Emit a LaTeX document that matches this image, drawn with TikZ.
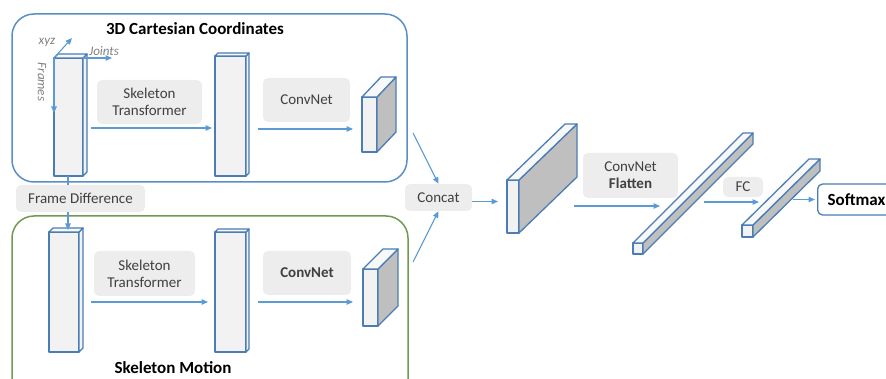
\documentclass[tikz,border=0pt]{standalone}
\usepackage{fontspec}
\setmainfont{Carlito}
\usetikzlibrary{arrows.meta}
\definecolor{lineblue}{HTML}{5B9BD5}
\definecolor{edgeblue}{HTML}{4A7DB5}
\definecolor{frameblue}{HTML}{5A8FC6}
\definecolor{framegreen}{HTML}{6F9A50}
\definecolor{labelgray}{HTML}{EDEDED}
\definecolor{facegray}{HTML}{F2F2F2}
\definecolor{topwhite}{HTML}{F8F8F8}
\definecolor{sidegray}{HTML}{BFBFBF}
\definecolor{textgray}{HTML}{404040}
\tikzset{
  front/.style={draw=edgeblue, line width=1.3pt, fill=facegray, inner sep=0pt, outer sep=0pt},
  edge/.style={draw=edgeblue, line width=1.3pt},
  lbl/.style={fill=labelgray, rounded corners=5pt, text=textgray, align=center, inner sep=0pt},
  arr/.style={->, draw=lineblue, line width=1.1pt},
  axis/.style={font=\itshape\fontsize{13}{15}\selectfont, text=gray},
  title/.style={font=\bfseries\fontsize{17}{20}\selectfont}
}
% #1 name, (#2,#3) front top-left, #4 x #5 front, (#6,#7) depth, #8 side colour
\newcommand{\cuboid}[8]{%
  \node[front, minimum width=#4pt, minimum height=#5pt, anchor=north west] (#1) at (#2,#3) {};
  \draw[edge, fill=#8] (#1.north east) -- ++(#6,-#7) -- ++(0,#5) -- ++(-#6,#7) -- cycle;
  \draw[edge, fill=topwhite] (#1.north west) -- ++(#6,-#7) -- ++(#4,0) -- (#1.north east) -- cycle;
}
\begin{document}
\begin{tikzpicture}[x=1pt, y=-1pt, >={Triangle[length=6.5pt,width=5.5pt]}, line join=round, font=\fontsize{15}{17}\selectfont]
  \useasboundingbox (0,0) rectangle (886,379);
  \clip (0,0) rectangle (886,379);
  % frames
  \draw[frameblue, line width=1.5pt, rounded corners=22pt] (12,14) rectangle (407,182);
  \draw[framegreen, line width=1.5pt, rounded corners=22pt] (12,216) rectangle (408,420);
  \node[title] (ttl1) at (195,29) {3D Cartesian Coordinates};
  \node[title] (ttl2) at (173,368) {Skeleton Motion};
  % labels
  \node[lbl, minimum width=105pt, minimum height=44pt] (tr1) at (149.5,102) {Skeleton\\Transformer};
  \node[lbl, minimum width=87pt, minimum height=44pt] (cn1) at (306.5,100) {ConvNet};
  \node[lbl, minimum width=129pt, minimum height=27pt] (fd) at (80.5,198.5) {Frame Difference};
  \node[lbl, minimum width=101pt, minimum height=45pt] (tr2) at (144.5,273.5) {Skeleton\\Transformer};
  \node[lbl, minimum width=88pt, minimum height=44pt, font=\bfseries\fontsize{15}{17}\selectfont] (cn2) at (307,273) {ConvNet};
  \node[lbl, minimum width=67pt, minimum height=27pt] (cat) at (438.5,197.5) {Concat};
  \node[lbl, minimum width=95pt, minimum height=45pt] (fl) at (630.5,175.5) {ConvNet\\\textbf{Flatten}};
  \node[lbl, minimum width=40pt, minimum height=20pt] (fc) at (743,187) {FC};
  \node[draw=edgeblue, line width=1.3pt, fill=white, rounded corners=5pt, minimum height=31pt,
    inner xsep=10pt, anchor=west, font=\bfseries\fontsize{17}{20}\selectfont] (sm) at (817,199.5) {Softmax\hspace{8pt}};
  % blocks
  \cuboid{t1}{54}{58}{29}{118}{4}{4}{facegray}
  \cuboid{t2}{215}{56}{31}{120}{3}{3}{facegray}
  \cuboid{t3}{362}{97}{15}{55}{19}{20}{sidegray}
  \cuboid{b1}{49}{232}{30}{120}{4}{4}{facegray}
  \cuboid{b2}{215}{232}{31}{120}{3}{3}{facegray}
  \cuboid{b3}{363}{269}{15}{57}{20}{20}{sidegray}
  \cuboid{blk}{507}{180}{12}{53}{58}{56}{sidegray}
  \cuboid{bar1}{633}{243}{10}{11}{110}{110}{sidegray}
  \cuboid{bar2}{742}{225}{11}{12}{67}{66}{sidegray}
  % axes
  \coordinate (ax1) at (72,38);
  \coordinate (ax2) at (112,58);
  \coordinate (ax3) at (54,113);
  \draw[arr] (t1.north west) -- (ax1);
  \draw[arr] (t1.north east) -- (ax2);
  \draw[arr] (t1.north west) -- (ax3);
  \node[axis] at (47,42) {xyz};
  \node[axis] at (104,51) {Joints};
  \node[axis, rotate=-90] at (42,82) {Frames};
  % connectors
  \coordinate (s1) at (91,128);
  \coordinate (s2) at (258,129);
  \coordinate (s3) at (91,302);
  \coordinate (s4) at (258,302);
  \coordinate (c1) at (413,133);
  \coordinate (c2) at (413,262);
  \coordinate (s5) at (574,206);
  \coordinate (e5) at (660,206);
  \coordinate (s6) at (704,202);
  \coordinate (e6) at (759,202);
  \draw[arr, shorten >=3pt] (s1) -- (s1 -| t2.west);
  \draw[arr, shorten >=9pt] (s2) -- (s2 -| t3.west);
  \draw[arr, shorten >=7pt] (s3) -- (s3 -| b2.west);
  \draw[arr, shorten >=10pt] (s4) -- (s4 -| b3.west);
  \draw[lineblue, line width=1.1pt] (t1.south -| 68,0) -- (fd.north -| 68,0);
  \draw[arr, shorten >=2pt] (fd.south -| 68,0) -- (b1.north -| 68,0);
  \draw[arr] (c1) -- (cat.north);
  \draw[arr] (c2) -- (cat.south);
  \draw[arr, shorten >=9pt] ([yshift=-4pt]cat.east) -- ([yshift=-4pt]cat.east -| blk.west);
  \draw[arr] (s5) -- (e5);
  \draw[arr] (s6) -- (e6);
  \draw[arr, shorten >=2pt] ([xshift=40pt]bar2.east |- sm.west) -- (sm.west);
\end{tikzpicture}
\end{document}
